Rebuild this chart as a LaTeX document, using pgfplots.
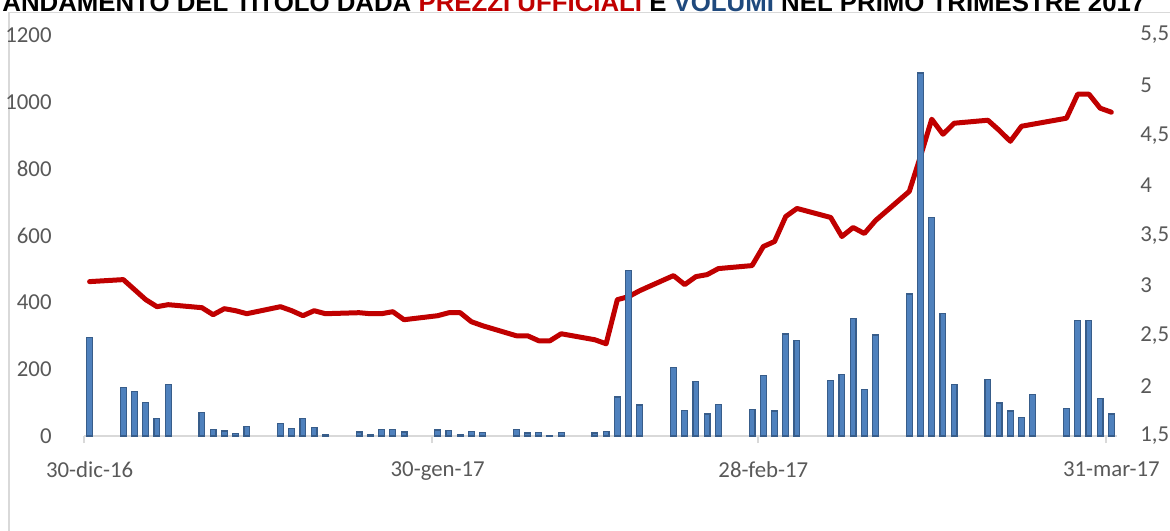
\documentclass[border=0pt]{standalone}
\usepackage{fontspec}
\setmainfont{Carlito}
\newfontfamily\titlefont{Liberation Sans}
\usepackage{pgfplots}
\pgfplotsset{compat=1.18}
\definecolor{axisgray}{HTML}{D9D9D9}
\definecolor{labelgray}{HTML}{595959}
\definecolor{barfill}{HTML}{4F81BD}
\definecolor{bardraw}{HTML}{385D8A}
\definecolor{lred}{HTML}{C00000}
\definecolor{tblue}{HTML}{1F497D}
\begin{document}
\begin{tikzpicture}
\useasboundingbox (0,0) rectangle (585pt,265pt);
\clip (0,0) rectangle (585pt,265pt);
\fill[white] (0,0) rectangle (585pt,265pt);
\draw[axisgray, line width=0.6pt] (4.5pt,-10pt) rectangle (600pt,258.75pt);
\node[anchor=base west, inner sep=0pt, font=\titlefont\bfseries\fontsize{12.9}{13}\selectfont] at (1pt,259.3pt) {ANDAMENTO DEL TITOLO DADA \textcolor{lred}{PREZZI UFFICIALI} E \textcolor{tblue}{VOLUMI} NEL PRIMO TRIMESTRE 2017};
\pgfplotsset{common/.style={
  at={(42pt,47pt)}, anchor=south west, scale only axis,
  width=516.5pt, height=200.5pt, xmin=-0.5, xmax=91.5,
  /pgf/number format/assume math mode=true,
  tick label style={font=\fontsize{11.4}{13}\selectfont, text=labelgray},
}}
% price line (right axis)
\begin{axis}[common,
  ymin=1.5, ymax=5.5,
  ytick={1.5,2,2.5,3,3.5,4,4.5,5,5.5},
  axis y line*=right, axis x line=none, xtick=\empty,
  y axis line style={draw=none}, ytick style={draw=none},
  yticklabel style={anchor=west, inner sep=0pt, xshift=11.5pt, /pgf/number format/use comma},
]
\addplot[draw=lred, line width=2.5pt, line join=round, line cap=round, mark=none] coordinates {
(0,3.04) (3,3.06) (4,2.96) (5,2.86) (6,2.79) (7,2.81)
(10,2.78) (11,2.71) (12,2.77) (13,2.75) (14,2.72)
(17,2.79) (18,2.75) (19,2.70) (20,2.75) (21,2.72)
(24,2.73) (25,2.72) (26,2.72) (27,2.74) (28,2.66)
(31,2.70) (32,2.73) (33,2.73) (34,2.64) (35,2.60)
(38,2.50) (39,2.50) (40,2.45) (41,2.45) (42,2.52)
(45,2.46) (46,2.42) (47,2.86) (48,2.89) (49,2.95)
(52,3.10) (53,3.01) (54,3.09) (55,3.11) (56,3.17)
(59,3.20) (60,3.39) (61,3.44) (62,3.69) (63,3.77)
(66,3.68) (67,3.49) (68,3.58) (69,3.52) (70,3.65)
(73,3.94) (74,4.29) (75,4.66) (76,4.51) (77,4.62)
(80,4.65) (81,4.55) (82,4.44) (83,4.59) (84,4.61)
(87,4.67) (88,4.91) (89,4.91) (90,4.77) (91,4.73)
};
\end{axis}
% volume bars (left axis)
\begin{axis}[common,
  ybar, bar width=2.9pt,
  ymin=0, ymax=1200, ytick={0,200,...,1200},
  /pgf/number format/1000 sep={},
  axis y line*=left, axis x line*=bottom,
  y axis line style={draw=none}, ytick style={draw=none},
  x axis line style={draw=axisgray, line width=1pt},
  xtick={0,31,60,91},
  xticklabels={30-dic-16,30-gen-17,28-feb-17,31-mar-17},
  major tick length=0pt,
  extra x ticks={-0.5,30.5,59.5,90.5},
  extra x tick labels={},
  extra x tick style={major tick length=3.5pt, tick align=outside, tick style={draw=axisgray, line width=1pt}},
  yticklabel style={anchor=east, inner sep=0pt, xshift=-16pt},
  xticklabel style={anchor=north, inner sep=0pt, yshift=-12.5pt},
]
\addplot[fill=barfill, draw=bardraw, line width=0.6pt] coordinates {
(0,294) (3,146) (4,134) (5,100) (6,52) (7,153)
(10,71) (11,20) (12,15) (13,8) (14,28)
(17,38) (18,22) (19,52) (20,25) (21,5)
(24,12) (25,3) (26,19) (27,19) (28,12)
(31,18) (32,17) (33,4) (34,13) (35,11)
(38,19) (39,9) (40,10) (41,2) (42,11)
(45,9) (46,14) (47,117) (48,495) (49,93)
(52,205) (53,76) (54,162) (55,66) (56,95)
(59,79) (60,182) (61,75) (62,305) (63,285)
(66,167) (67,183) (68,352) (69,140) (70,302)
(73,425) (74,1086) (75,654) (76,367) (77,153)
(80,169) (81,99) (82,75) (83,55) (84,125)
(87,82) (88,345) (89,345) (90,112) (91,66)
};
\end{axis}
\end{tikzpicture}
\end{document}
